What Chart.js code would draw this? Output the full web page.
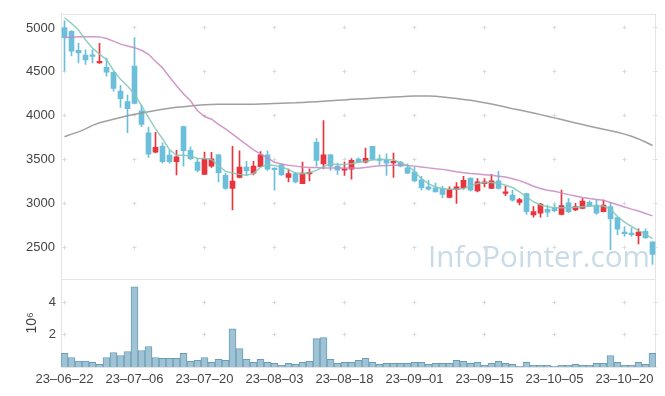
<!DOCTYPE html>
<html><head><meta charset="utf-8">
<script src="https://cdn.jsdelivr.net/npm/chart.js@4"></script>
<style>html,body{margin:0;padding:0;background:#fff}#wrap{width:665px;height:396px}</style>
</head><body><div id="wrap"><canvas id="c" width="665" height="396"></canvas></div>
<script>
const dates = ['23-06-22','23-06-23','23-06-26','23-06-27','23-06-28','23-06-29','23-06-30',
'23-07-03','23-07-04','23-07-05','23-07-06','23-07-07','23-07-10','23-07-11','23-07-12','23-07-13','23-07-14',
'23-07-17','23-07-18','23-07-19','23-07-20','23-07-21','23-07-24','23-07-25','23-07-26','23-07-27','23-07-28','23-07-31',
'23-08-01','23-08-02','23-08-03','23-08-04','23-08-07','23-08-08','23-08-09','23-08-10','23-08-11','23-08-14','23-08-16',
'23-08-17','23-08-18','23-08-21','23-08-22','23-08-23','23-08-24','23-08-25','23-08-28','23-08-29','23-08-30','23-08-31',
'23-09-01','23-09-04','23-09-05','23-09-06','23-09-07','23-09-08','23-09-11','23-09-12','23-09-13','23-09-14','23-09-15',
'23-09-18','23-09-19','23-09-20','23-09-21','23-09-22','23-09-25','23-09-26','23-09-27',
'23-10-04','23-10-05','23-10-06','23-10-10','23-10-11','23-10-12','23-10-13','23-10-16','23-10-17','23-10-18','23-10-19',
'23-10-20','23-10-23','23-10-24','23-10-25','23-10-26'];

const openP = [5000,4960,4745,4690,4685,4600,4550,4495,4280,4160,
4565,4055,3805,3585,3650,3550,3475,3875,3605,3470,
3330,3425,3555,3320,3170,3295,3415,3345,3420,3555,
3400,3440,3295,3340,3225,3335,3695,3450,3555,3425,
3378,3390,3505,3470,3650,3508,3495,3462,3470,3405,
3357,3270,3188,3177,3170,3068,3158,3177,3290,3143,
3226,3170,3256,3113,3095,3012,3113,2869,2888,2933,
2951,2876,3008,2925,2944,3012,2982,2906,2963,2839,
2673,2662,2632,2681,2561];
const closeP = [4890,4735,4715,4635,4675,4620,4495,4310,4195,4080,
4140,3900,3560,3640,3475,3475,3530,3600,3510,3375,
3505,3508,3350,3170,3255,3415,3370,3425,3555,3390,
3385,3325,3340,3245,3345,3355,3490,3555,3425,3380,
3395,3490,3470,3515,3500,3490,3460,3470,3425,3345,
3255,3180,3162,3132,3102,3158,3188,3263,3151,3245,
3245,3256,3170,3132,3038,3045,2906,2906,2993,2899,
2918,2974,2906,2963,3027,2970,2888,2982,2824,2707,
2655,2643,2673,2606,2418];
const highP = [5080,4970,4825,4750,4750,4825,4655,4500,4345,4235,
4890,4120,3870,3810,3690,3605,3605,3880,3645,3510,
3585,3583,3560,3345,3650,3600,3480,3480,3590,3600,
3405,3450,3390,3355,3470,3395,3740,3945,3560,3460,
3470,3510,3520,3630,3652,3555,3565,3575,3480,3450,
3415,3310,3263,3233,3195,3188,3237,3308,3292,3282,
3282,3331,3365,3196,3150,3057,3115,2963,3000,2982,
2993,3151,3057,3000,3057,3030,3038,3038,3000,2842,
2737,2718,2711,2711,2563];
const lowP = [4510,4680,4600,4585,4600,4595,4450,4280,4095,3805,
4135,3875,3525,3575,3460,3460,3325,3425,3495,3360,
3330,3410,3245,3160,2925,3290,3320,3325,3415,3375,
3150,3320,3245,3235,3225,3255,3425,3395,3375,3330,
3320,3275,3465,3462,3498,3445,3320,3295,3415,3340,
3245,3150,3150,3130,3065,3064,3000,3162,3140,3132,
3188,3168,3162,3087,3027,2982,2876,2843,2843,2850,
2906,2869,2895,2918,2940,2963,2876,2903,2474,2643,
2625,2625,2538,2604,2305];
const volumeM = [0.84,0.59,0.37,0.37,0.29,0.16,0.59,0.90,0.71,0.96,
4.96,1.02,1.27,0.59,0.53,0.53,0.53,0.84,0.35,0.41,
0.59,0.29,0.47,0.41,2.37,1.14,0.47,0.29,0.47,0.29,
0.22,0.10,0.22,0.16,0.29,0.35,1.76,1.82,0.47,0.22,
0.29,0.29,0.41,0.53,0.29,0.16,0.22,0.22,0.22,0.22,
0.29,0.29,0.16,0.22,0.22,0.22,0.41,0.35,0.22,0.29,
0.10,0.22,0.35,0.22,0.16,0.04,0.29,0.10,0.10,0.10,
0.04,0.10,0.10,0.16,0.10,0.10,0.22,0.22,0.71,0.29,
0.10,0.10,0.29,0.16,0.84];
const ma5 = [5116,5052,4977,4865,4770,4702,4639,4515,4414,4338,
4245,4113,3981,3850,3737,3613,3549,3549,3538,3512,
3512,3500,3432,3365,3346,3331,3320,3339,3414,3440,
3432,3414,3387,3346,3339,3350,3376,3420,3451,3444,
3444,3451,3470,3481,3496,3500,3500,3496,3463,3432,
3365,3282,3226,3188,3169,3162,3162,3169,3200,3226,
3237,3237,3233,3207,3181,3132,3076,3019,2982,2963,
2951,2951,2951,2955,2963,2970,2970,2970,2936,2850,
2786,2737,2690,2650,2600];
const ma20 = [4890,4895,4900,4900,4900,4898,4880,4850,4815,4795,
4775,4745,4700,4620,4545,4440,4340,4250,4170,4056,
3990,3960,3900,3850,3790,3730,3670,3610,3564,3515,
3470,3450,3435,3425,3415,3410,3408,3405,3405,3405,
3405,3403,3402,3410,3420,3428,3433,3435,3434,3432,
3425,3415,3405,3395,3388,3375,3360,3350,3340,3335,
3328,3320,3310,3300,3280,3260,3230,3195,3170,3150,
3138,3120,3100,3085,3068,3055,3045,3035,3010,2985,
2960,2935,2914,2885,2858];
const ma60 = [3760,3790,3815,3850,3890,3920,3940,3960,3980,3998,
4015,4030,4045,4060,4072,4084,4095,4103,4110,4118,
4124,4128,4130,4130,4130,4130,4130,4131,4133,4136,
4139,4142,4144,4146,4150,4155,4160,4165,4170,4175,
4180,4186,4190,4194,4198,4203,4208,4212,4216,4220,
4223,4225,4224,4220,4213,4205,4195,4185,4175,4162,
4148,4132,4115,4098,4080,4065,4048,4030,4012,3993,
3975,3956,3936,3917,3899,3880,3862,3845,3828,3810,
3790,3765,3735,3700,3660];
const priceTicks = [2500,3000,3500,4000,4500,5000];
const volumeTicks = [2000000,4000000];

const UP = '#e8343c', DOWN = '#6cbfdb';
const candleColors = openP.map((o,i) => closeP[i] >= o ? UP : DOWN);
const bodies = openP.map((o,i) => [o, closeP[i]]);
const wicks = lowP.map((l,i) => [l, highP[i]]);
const volumes = volumeM.map(v => v * 1e6);

const FONT = '"Liberation Sans", Arial, sans-serif';
const panelPlugin = {
  id: 'panels',
  beforeDatasetsDraw(chart) {
    const {ctx, chartArea: a, scales} = chart;
    const x = scales.x, y = scales.y, yv = scales.yv;
    ctx.save();
    const wm = 'InfoPointer.com';
    ctx.font = '100px "Open Sans"';
    const w100 = ctx.measureText(wm).width;
    const size = 222 / w100 * 100;
    ctx.font = size + 'px "Open Sans"';
    ctx.fillStyle = 'rgba(170,200,218,0.65)';
    ctx.textAlign = 'right';
    ctx.textBaseline = 'alphabetic';
    ctx.fillText(wm, a.right - 6, y.bottom - 12);
    ctx.strokeStyle = '#dadada';
    ctx.lineWidth = 1;
    const xs = x.ticks.map(t => Math.floor(x.getPixelForValue(t.value)) + 0.5);
    xs.push(a.right - 0.5);
    const ys = y.ticks.map(t => Math.floor(y.getPixelForValue(t.value)) + 0.5)
      .concat(yv.ticks.map(t => Math.floor(yv.getPixelForValue(t.value)) + 0.5));
    ctx.beginPath();
    xs.forEach(px => ys.forEach(py => {
      ctx.moveTo(px - 2, py); ctx.lineTo(px + 2, py);
      ctx.moveTo(px, py - 2); ctx.lineTo(px, py + 2);
    }));
    ctx.stroke();
    ctx.strokeStyle = '#e4e4e4';
    ctx.beginPath();
    ctx.moveTo(a.left, Math.round(a.top) + 0.5); ctx.lineTo(a.right, Math.round(a.top) + 0.5);
    ctx.moveTo(Math.round(a.right) - 0.5, a.top); ctx.lineTo(Math.round(a.right) - 0.5, a.bottom);
    ctx.moveTo(a.left, Math.round(y.bottom) + 0.5); ctx.lineTo(a.right, Math.round(y.bottom) + 0.5);
    ctx.stroke();
    ctx.restore();
  }
};

const tickFont = {family: FONT, size: 13};
new Chart(document.getElementById('c'), {
  data: {
    labels: dates,
    datasets: [
      {type: 'line', data: ma5, yAxisID: 'y', borderColor: 'rgba(128,200,182,0.85)', borderWidth: 1.5, pointRadius: 0, tension: 0, order: 0},
      {type: 'line', data: ma20, yAxisID: 'y', borderColor: 'rgba(200,135,195,0.85)', borderWidth: 1.5, pointRadius: 0, tension: 0, order: 0},
      {type: 'line', data: ma60, yAxisID: 'y', borderColor: 'rgba(150,150,150,0.9)', borderWidth: 1.5, pointRadius: 0, tension: 0, order: 0},
      {type: 'bar', data: bodies, yAxisID: 'y', backgroundColor: candleColors, borderWidth: 0, barThickness: 5, minBarLength: 1.5, grouped: false, order: 1},
      {type: 'bar', data: wicks, yAxisID: 'y', backgroundColor: candleColors, borderWidth: 0, barThickness: 1, grouped: false, order: 2},
      {type: 'bar', data: volumes, yAxisID: 'yv', backgroundColor: '#9fc3d4', borderColor: '#6a9eb6', borderWidth: 1, categoryPercentage: 1, barPercentage: 1, grouped: false, order: 3}
    ]
  },
  options: {
    responsive: false,
    animation: false,
    devicePixelRatio: 1,
    events: [],
    layout: {padding: {top: 10, right: 9, bottom: 0, left: 0}},
    plugins: {legend: {display: false}, tooltip: {enabled: false}},
    scales: {
      x: {
        type: 'category', offset: true,
        grid: {display: false, drawTicks: false},
        border: {display: true, color: '#e4e4e4'},
        ticks: {font: tickFont, color: '#444', padding: 5, maxRotation: 0, autoSkip: false,
          callback: (v) => dates[v].replace(/-/g, '\u2013')},
        afterBuildTicks: (s) => { s.ticks = s.ticks.filter(t => t.value % 10 === 0); },
        afterFit: (s) => { s.height = 29; }
      },
      yv: {
        type: 'linear', position: 'left', stack: 'panels', stackWeight: 1,
        min: 0, max: 5470000,
        grid: {display: false, drawTicks: false},
        border: {display: true, color: '#e4e4e4'},
        ticks: {font: tickFont, color: '#444', padding: 5, callback: (v) => String(v / 1e6)},
        afterBuildTicks: (s) => { s.ticks = volumeTicks.map(v => ({value: v})); },
        title: {display: true, text: '10\u2076', font: {family: FONT, size: 14}, color: '#444', padding: {top: 24, bottom: 0}},
        afterFit: (s) => { s.width = 61; }
      },
      y: {
        type: 'linear', position: 'left', stack: 'panels', stackWeight: 3,
        min: 2142, max: 5161,
        grid: {display: false, drawTicks: false},
        border: {display: true, color: '#e4e4e4'},
        ticks: {font: tickFont, color: '#444', padding: 6, callback: (v) => String(v)},
        afterBuildTicks: (s) => { s.ticks = priceTicks.map(v => ({value: v})); },
        afterFit: (s) => { s.width = 61; }
      }
    }
  },
  plugins: [panelPlugin]
});
</script>
</body></html>
